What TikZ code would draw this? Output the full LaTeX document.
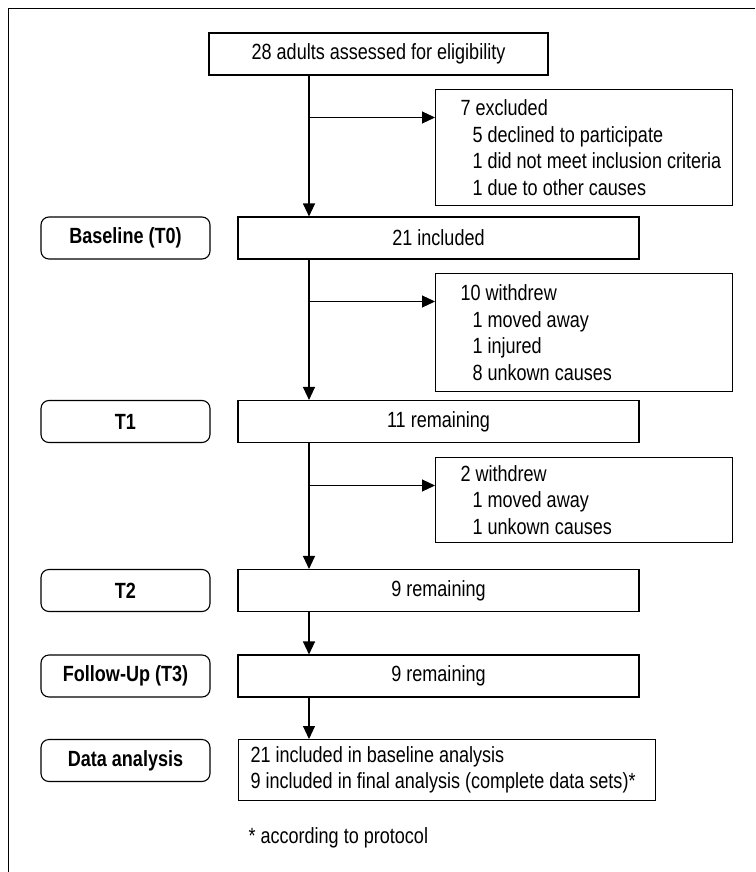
\documentclass[tikz,border=0pt]{standalone}
\usepackage{fontspec}
\setmainfont{Liberation Sans}[FakeStretch=0.82]
\usetikzlibrary{arrows.meta}
\newcommand\flowfont{\fontsize{22pt}{26.5pt}\selectfont}
\newcommand\indnt{\hspace*{12pt}}

\begin{document}
\begin{tikzpicture}[x=1pt, y=-1pt, >={Triangle[width=12pt,length=13pt]}, line width=1.1pt,
    every node/.style={font=\flowfont},
    stage/.style={draw, minimum width=401pt, minimum height=42pt, inner sep=0pt},
    phase/.style={draw, rounded corners=8pt, minimum width=169pt, minimum height=42pt, inner sep=0pt, font=\flowfont\bfseries},
    note/.style={draw, anchor=north west, minimum width=297pt, inner sep=0pt},
    list/.style={anchor=west, align=left, inner sep=0pt}]
\useasboundingbox (0,0) rectangle (755,872);
\draw[line width=.8pt] (8,872) -- (8,8) -- (755,8);

\coordinate (trunk) at (309,0);

% main column
\node[stage, minimum width=339pt] (screen) at (378.5,54) {28 adults assessed for eligibility};
\node[stage] (incl) at (438.5,238) {21 included};
\node[stage] (tA) at (438.5,421.5) {11 remaining};
\node[stage] (tB) at (438.5,590.5) {9 remaining};
\node[stage] (fu) at (438.5,676) {9 remaining};
\node[stage, anchor=north west, minimum width=417pt, minimum height=61pt] (data) at (238,739) {};
\node[list] (dataText) at ([xshift=12pt]data.west)
    {21 included in baseline analysis\\9 included in final analysis (complete data sets)*};

% phases
\node[phase] (pBase) at (125.5,238) {Baseline (T0)};
\node[phase] (pA) at (125.5,421.5) {T1};
\node[phase] (pB) at (125.5,590.5) {T2};
\node[phase] (pFu) at (125.5,676) {Follow-Up (T3)};
\node[phase] (pData) at (125.5,760.5) {Data analysis};

% drop-outs
\node[note, minimum height=116pt] (excl) at (435,89) {};
\node[list] (exclText) at ([xshift=25pt]excl.west)
    {7 excluded\\\indnt 5 declined to participate\\\indnt 1 did not meet inclusion criteria\\\indnt 1 due to other causes};
\node[note, minimum height=118pt] (wdA) at (435,273) {};
\node[list] (wdAText) at ([xshift=25pt]wdA.west)
    {10 withdrew\\\indnt 1 moved away\\\indnt 1 injured\\\indnt 8 unkown causes};
\node[note, minimum height=85pt] (wdB) at (435,457) {};
\node[list] (wdBText) at ([xshift=25pt]wdB.west)
    {2 withdrew\\\indnt 1 moved away\\\indnt 1 unkown causes};

\node[anchor=west, inner sep=0pt] (foot) at (248,838) {* according to protocol};

\foreach \a/\b in {screen/incl, incl/tA, tA/tB, tB/fu, fu/data}
    \draw[->] (trunk |- \a.south) -- (trunk |- \b.north);
\foreach \n in {excl, wdA, wdB}
{
    \coordinate (\n In) at ([yshift=-28.5pt]\n.north west);
    \draw[->] (trunk |- \n In) -- (\n In);
}
\end{tikzpicture}
\end{document}
